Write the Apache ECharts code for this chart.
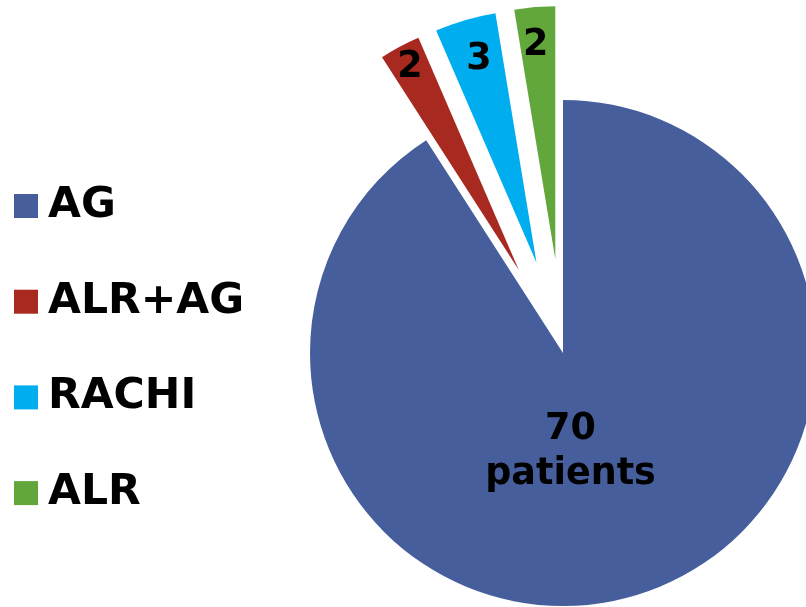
<!DOCTYPE html>
<html>
<head>
<meta charset="utf-8">
<script src="https://cdn.jsdelivr.net/npm/echarts@6/dist/echarts.min.js"></script>
<style>
html,body{margin:0;padding:0;background:#fff;}
#chart{width:806px;height:607px;}
</style>
</head>
<body>
<div id="chart"></div>
<script>
const categories = ['AG', 'ALR+AG', 'RACHI', 'ALR'];
const values = [70, 2, 3, 2];
const labelTexts = ['70\npatients', '2', '3', '2'];
const exploded = [false, true, true, true];

const colors = ['#465E9C', '#A8291F', '#00AEEF', '#62A73B'];
const labelShifts = [[-29, -25], [-48, -88], [-21, -79], [-9, -85]];

const chart = echarts.init(document.getElementById('chart'), null, {renderer: 'canvas'});
const data = categories.map((name, i) => ({
  name: name,
  value: values[i],
  selected: exploded[i],
  itemStyle: {color: colors[i]},
  label: {formatter: labelTexts[i]}
}));

chart.setOption({
  animation: false,
  backgroundColor: '#ffffff',
  legend: {
    orient: 'vertical',
    left: 14,
    top: 182,
    padding: 0,
    itemWidth: 24,
    itemHeight: 24,
    itemGap: 47.7,
    icon: 'rect',
    selectedMode: false,
    data: categories,
    textStyle: {
      fontFamily: 'DejaVu Sans',
      fontWeight: 'bold',
      fontSize: 42.5,
      lineHeight: 48,
      color: '#000',
      padding: [0, 0, 0, 5]
    }
  },
  series: [{
    type: 'pie',
    center: [563, 353],
    radius: 253,
    startAngle: 90,
    clockwise: true,
    selectedMode: 'multiple',
    selectedOffset: 94,
    silent: true,
    avoidLabelOverlap: false,
    label: {
      show: true,
      position: 'inside',
      fontFamily: 'DejaVu Sans',
      fontWeight: 'bold',
      fontSize: 36.5,
      lineHeight: 45,
      color: '#000'
    },
    labelLayout: function (params) {
      const s = labelShifts[params.dataIndex];
      return {dx: s[0], dy: s[1]};
    },
    labelLine: {show: false},
    itemStyle: {borderWidth: 0},
    emphasis: {disabled: true},
    data: data
  }]
});
</script>
</body>
</html>
